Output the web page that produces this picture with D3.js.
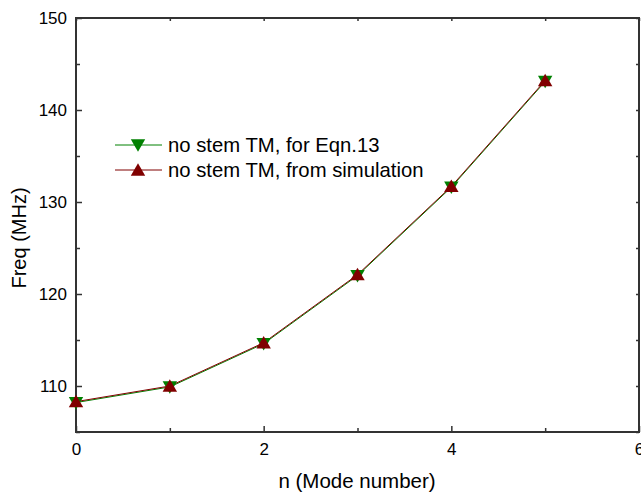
<!DOCTYPE html>
<html lang="en">
<head>
  <meta charset="UTF-8">
  <title>Freq vs mode number</title>
  <style>
    body { margin: 0; background: #fff; }
    svg { display: block; font-family: "Liberation Sans", Arial, sans-serif; }
    .tick text { font-size: 17px; fill: #000; }
    .domain { stroke: none; }
    .tick line { stroke: #333; stroke-width: 1.5px; }
  </style>
</head>
<body>
  <svg width="641" height="494"></svg>
  <script src="https://d3js.org/d3.v7.min.js"></script>
  <script>
    const modes = [0, 1, 2, 3, 4, 5];
    const eqnFreq = [108.2, 109.9, 114.6, 122.0, 131.6, 143.1];
    const simFreq = [108.3, 110.0, 114.7, 122.1, 131.7, 143.2];
    const xTicks = [0, 2, 4, 6];
    const yTicks = [110, 120, 130, 140, 150];
    const legendLabels = ["no stem TM, for Eqn.13", "no stem TM, from simulation"];

    const mLeft = 76, mRight = 639, mTop = 18, mBottom = 432;
    const svg = d3.select("svg");

    const x = d3.scaleLinear().domain([0, 6]).range([mLeft, mRight]);
    const y = d3.scaleLinear().domain([105, 150]).range([mBottom, mTop]);

    // minor ticks
    const xMinor = [1, 3, 5];
    const yMinor = [105, 115, 125, 135, 145];

    svg.append("g")
      .attr("transform", `translate(0,${mBottom})`)
      .call(d3.axisBottom(x).tickValues(xTicks).tickSize(-6).tickPadding(11).tickFormat(d3.format("d")));
    svg.append("g")
      .attr("transform", `translate(0,${mBottom})`)
      .call(d3.axisBottom(x).tickValues(xMinor).tickSize(-4).tickFormat(""));
    svg.append("g")
      .attr("transform", `translate(${mLeft},0)`)
      .call(d3.axisLeft(y).tickValues(yTicks).tickSize(-6).tickPadding(9).tickFormat(d3.format("d")));
    svg.append("g")
      .attr("transform", `translate(${mLeft},0)`)
      .call(d3.axisLeft(y).tickValues(yMinor).tickSize(-4).tickFormat(""));
    // top and right mirror ticks
    svg.append("g")
      .attr("transform", `translate(0,${mTop})`)
      .call(d3.axisTop(x).tickValues(d3.range(0, 7)).tickSize(-3).tickFormat(""));
    svg.append("g")
      .attr("transform", `translate(${mRight},0)`)
      .call(d3.axisRight(y).tickValues(d3.range(105, 151, 5)).tickSize(-3).tickFormat(""));

    // frame
    svg.append("rect")
      .attr("x", mLeft).attr("y", mTop)
      .attr("width", mRight - mLeft).attr("height", mBottom - mTop)
      .attr("fill", "none").attr("stroke", "#333").attr("stroke-width", 2);

    const series = [
      { vals: eqnFreq, color: "#008000", marker: d3.symbolTriangle, rot: 180 },
      { vals: simFreq, color: "#800000", marker: d3.symbolTriangle, rot: 0 }
    ];

    const line = d3.line().x((d, i) => x(modes[i])).y(d => y(d));

    series.forEach(s => {
      svg.append("path")
        .datum(s.vals)
        .attr("fill", "none")
        .attr("stroke", s.color)
        .attr("stroke-width", 1)
        .attr("d", line);
    });
    series.forEach(s => {
      svg.selectAll(null)
        .data(s.vals)
        .enter().append("path")
        .attr("d", d3.symbol().type(s.marker).size(90))
        .attr("fill", s.color)
        .attr("transform", (d, i) => `translate(${x(modes[i])},${y(d) + (s.rot ? -1.5 : 1.5)}) rotate(${s.rot})`);
    });

    // legend
    series.forEach((s, i) => {
      const ly = 145 + i * 25;
      svg.append("line")
        .attr("x1", 115).attr("x2", 162).attr("y1", ly).attr("y2", ly)
        .attr("stroke", s.color).attr("stroke-width", 1);
      svg.append("path")
        .attr("d", d3.symbol().type(s.marker).size(90))
        .attr("fill", s.color)
        .attr("transform", `translate(138,${ly + (s.rot ? -1.5 : 1.5)}) rotate(${s.rot})`);
      svg.append("text")
        .attr("x", 168).attr("y", ly + 7)
        .attr("font-size", 20.3)
        .text(legendLabels[i]);
    });

    svg.append("text")
      .attr("x", 357).attr("y", 488)
      .attr("text-anchor", "middle").attr("font-size", 20.5)
      .text("n (Mode number)");
    svg.append("text")
      .attr("transform", `translate(26,238) rotate(-90)`)
      .attr("text-anchor", "middle").attr("font-size", 20)
      .text("Freq (MHz)");
  </script>
</body>
</html>
